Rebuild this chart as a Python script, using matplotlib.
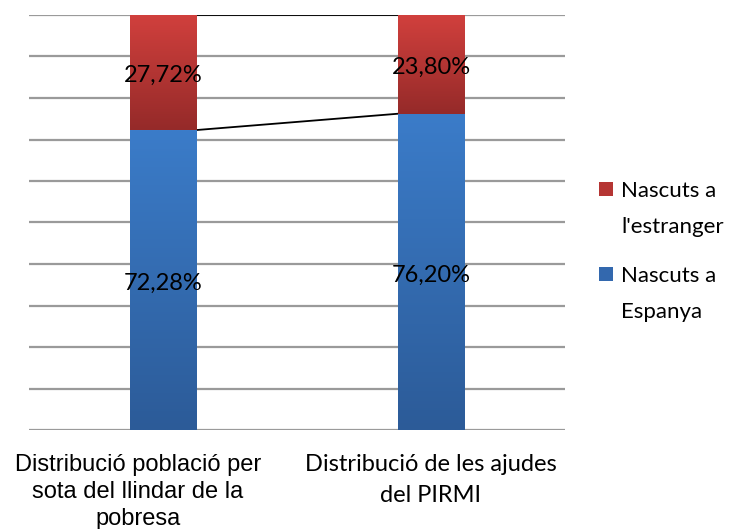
import matplotlib.pyplot as plt
import numpy as np
from matplotlib.patches import Rectangle
from matplotlib.colors import LinearSegmentedColormap
from matplotlib.transforms import ScaledTranslation

categories = ["Distribució població per\nsota del llindar de la\npobresa",
              "Distribució de les ajudes\ndel PIRMI"]
espanya = [72.28, 76.20]
estranger = [27.72, 23.80]
labels_esp = ["72,28%", "76,20%"]
labels_est = ["27,72%", "23,80%"]
series_names = [["Nascuts a", "l'estranger"], ["Nascuts a", "Espanya"]]

fig = plt.figure(figsize=(7.36, 5.29), dpi=100)
ax = fig.add_axes([29/736, 1 - 430/529, (565-29)/736, (430-15)/529])

x = np.arange(len(categories))
w = 0.25

blue_cm = LinearSegmentedColormap.from_list('b', ['#2c5b98', '#3b7cc9'])
red_cm = LinearSegmentedColormap.from_list('r', ['#952a29', '#d1403d'])

bars_esp = ax.bar(x, espanya, width=w, color='#3a78c2', zorder=3)
bars_est = ax.bar(x, estranger, width=w, bottom=espanya, color='#c43b38', zorder=3)

grad = np.linspace(0, 1, 256).reshape(-1, 1)
for bars, cm in [(bars_esp, blue_cm), (bars_est, red_cm)]:
    for b in bars:
        x0, y0 = b.get_x(), b.get_y()
        im = ax.imshow(grad, cmap=cm, origin='lower', aspect='auto',
                       extent=[x0, x0 + b.get_width(), y0, y0 + b.get_height()],
                       zorder=4)
        im.set_clip_path(b)

# series lines between the bars
ax.plot([x[0] + w/2, x[1] - w/2], espanya, color='black', lw=1.3, zorder=2)
tot = [e + s for e, s in zip(espanya, estranger)]
ax.plot([x[0] + w/2, x[1] - w/2], tot, color='black', lw=1.3, zorder=2)

down = ScaledTranslation(0, -0.03, fig.dpi_scale_trans)
for i in range(len(x)):
    ax.text(x[i], espanya[i] / 2, labels_esp[i], ha='center', va='center',
            fontsize=17, family='Lato', zorder=5, transform=ax.transData + down)
    ax.text(x[i], espanya[i] + estranger[i] / 2, labels_est[i], ha='center',
            va='center', fontsize=17, family='Lato', zorder=5,
            transform=ax.transData + down)

ax.set_xlim(-0.5, 1.5)
ax.set_ylim(0, 100)
ax.set_yticks(np.arange(0, 101, 10))
ax.yaxis.grid(True, color='#9a9a9a', lw=1.6, zorder=0)
ax.set_yticklabels([])
ax.set_xticks(x)
ax.set_xticklabels(categories, fontsize=17, va='top')
ax.tick_params(length=0, pad=17)
tl = ax.get_xticklabels()
tl[0].set_family('Liberation Sans')
tl[0].set_linespacing(1.3)
tl[0].set_transform(tl[0].get_transform() + ScaledTranslation(-0.25, 0, fig.dpi_scale_trans))
tl[1].set_family('Lato')
tl[1].set_linespacing(1.6)
for s in ax.spines.values():
    s.set_visible(False)

# legend (drawn by hand: marker aligned with first text line)
leg_colors = ['#b53533', '#3368ae']
leg_y = [197, 282]
for names, c, yb in zip(series_names, leg_colors, leg_y):
    fig.patches.append(Rectangle((599/736, 1 - (yb - 1)/529), 14/736, 14/529,
                                 transform=fig.transFigure, facecolor=c,
                                 edgecolor='none'))
    for k, line in enumerate(names):
        fig.text(621/736, 1 - (yb + 36*k)/529, line, family='Lato',
                 fontsize=16, va='baseline', ha='left')

fig.savefig('out.png', dpi=100)
